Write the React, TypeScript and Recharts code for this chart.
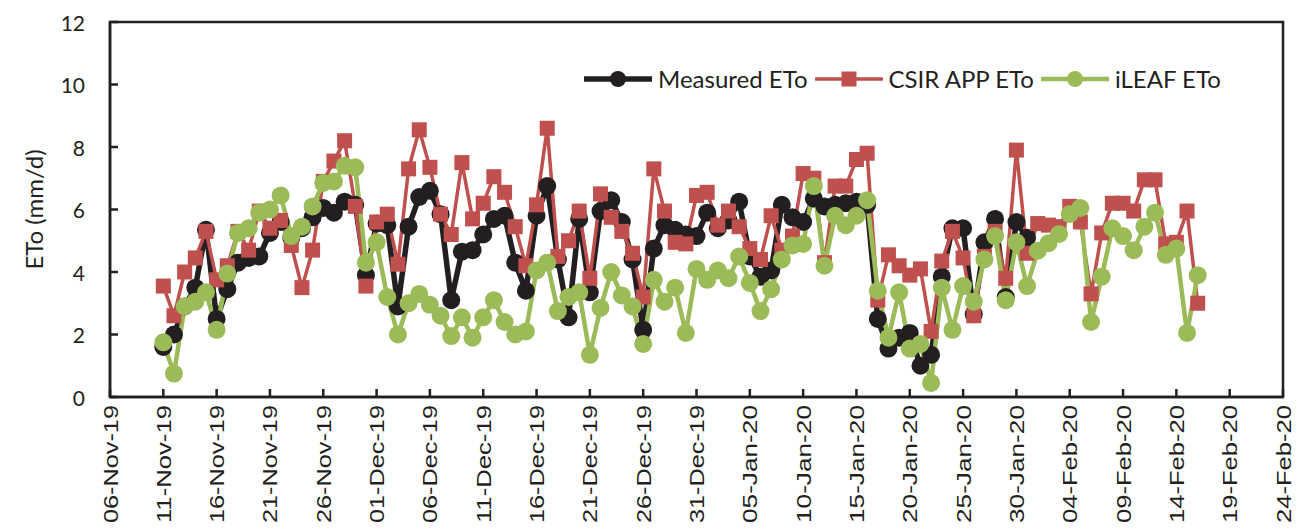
import { LineChart, Line, XAxis, YAxis, Legend, ReferenceArea } from 'recharts';

const tickLabels = [
  '06-Nov-19', '11-Nov-19', '16-Nov-19', '21-Nov-19', '26-Nov-19', '01-Dec-19',
  '06-Dec-19', '11-Dec-19', '16-Dec-19', '21-Dec-19', '26-Dec-19', '31-Dec-19',
  '05-Jan-20', '10-Jan-20', '15-Jan-20', '20-Jan-20', '25-Jan-20', '30-Jan-20',
  '04-Feb-20', '09-Feb-20', '14-Feb-20', '19-Feb-20', '24-Feb-20',
];

// daily readings start on 11-Nov-19, five days after the axis origin
const firstDay = 5;

const measured = [
  1.6, 2.0, 2.9, 3.5, 5.35, 2.5, 3.45, 4.3, 4.45, 4.5,
  5.25, 5.6, 5.1, 5.4, 5.75, 6.05, 5.9, 6.25, 6.15, 3.9,
  5.55, 5.5, 2.9, 5.45, 6.4, 6.6, 5.85, 3.1, 4.65, 4.7,
  5.2, 5.7, 5.8, 4.3, 3.4, 5.8, 6.75, 4.4, 2.55, 5.7,
  3.35, 5.95, 6.3, 5.6, 4.4, 2.15, 4.75, 5.5, 5.35, 5.2,
  5.15, 5.9, 5.4, 5.65, 6.25, 4.5, 3.85, 4.05, 6.15, 5.75,
  5.6, 6.35, 6.1, 6.15, 6.2, 6.25, 6.15, 2.5, 1.55, 1.9,
  2.05, 1.0, 1.35, 3.85, 5.4, 5.4, 2.65, 4.95, 5.7, 3.2,
  5.6, 5.1,
];

const csir = [
  3.55, 2.6, 4.0, 4.45, 5.3, 3.75, 4.2, 5.3, 4.7, 5.95,
  5.4, 5.65, 4.85, 3.5, 4.7, 6.9, 7.55, 8.2, 6.1, 3.55,
  5.6, 5.85, 4.25, 7.3, 8.55, 7.35, 5.85, 5.2, 7.5, 5.7,
  6.2, 7.05, 6.55, 5.45, 4.2, 6.15, 8.6, 4.5, 5.0, 5.95,
  3.8, 6.5, 5.75, 5.3, 4.6, 3.2, 7.3, 5.95, 4.95, 4.9,
  6.45, 6.55, 5.5, 5.95, 5.45, 4.75, 4.4, 5.8, 4.7, 5.15,
  7.15, 7.0, 4.3, 6.75, 6.75, 7.6, 7.8, 3.1, 4.55, 4.2,
  3.9, 4.1, 2.1, 4.35, 5.3, 4.45, 2.6, 4.5, 5.3, 3.8,
  7.9, 4.6, 5.55, 5.5, 5.45, 6.1, 5.6, 3.3, 5.25, 6.2,
  6.2, 5.95, 6.95, 6.95, 4.9, 4.95, 5.95, 3.0,
];

const ileaf = [
  1.75, 0.75, 2.9, 3.05, 3.35, 2.15, 3.95, 5.25, 5.4, 5.9,
  6.0, 6.45, 5.15, 5.45, 6.1, 6.85, 6.9, 7.4, 7.35, 4.3,
  4.95, 3.2, 2.0, 3.0, 3.3, 2.95, 2.6, 1.95, 2.55, 1.9,
  2.55, 3.1, 2.4, 2.0, 2.1, 4.05, 4.3, 2.75, 3.2, 3.35,
  1.35, 2.85, 4.0, 3.25, 2.9, 1.7, 3.75, 3.05, 3.5, 2.05,
  4.1, 3.75, 4.05, 3.8, 4.5, 3.65, 2.75, 3.45, 4.4, 4.85,
  4.9, 6.75, 4.2, 5.8, 5.5, 5.8, 6.3, 3.4, 1.9, 3.35,
  1.55, 1.7, 0.45, 3.5, 2.15, 3.55, 3.05, 4.4, 5.15, 3.1,
  4.95, 3.55, 4.68, 4.92, 5.22, 5.86, 6.05, 2.4, 3.85, 5.4,
  5.15, 4.7, 5.45, 5.9, 4.55, 4.75, 2.05, 3.9,
];

const yTicks = [0, 2, 4, 6, 8, 10, 12];

const BLACK = '#231f20';
const RED = '#c0504d';
const GREEN = '#9bbb59';

const legendItems = [
  { name: 'Measured ETo', color: BLACK, shape: 'circle', width: 5.5 },
  { name: 'CSIR APP ETo', color: RED, shape: 'square', width: 3.5 },
  { name: 'iLEAF ETo', color: GREEN, shape: 'circle', width: 4.5 },
];

const data = ileaf.map((v, i) => ({
  day: firstDay + i,
  measured: i < measured.length ? measured[i] : null,
  csir: csir[i],
  ileaf: v,
}));

const calibriLike = 'Lato, "Open Sans", sans-serif';

function SquareDot(props: any) {
  const { cx, cy } = props;
  if (cx == null || cy == null) return null;
  return <rect x={cx - 7.5} y={cy - 7.5} width={15} height={15} fill={RED} />;
}

function DateTick(props: any) {
  const { x, y, payload } = props;
  const label = tickLabels[Math.round(payload.value / 5)];
  const axisY = y - 8;
  return (
    <g>
      <line x1={x} y1={axisY} x2={x} y2={axisY - 8} stroke={BLACK} strokeWidth={2.5} />
      <text
        x={x}
        y={y}
        transform={`rotate(-90, ${x}, ${y})`}
        textAnchor="end"
        dominantBaseline="central"
        fontFamily='"Liberation Sans", Arial, sans-serif'
        fontSize={21}
        textLength={118}
        lengthAdjust="spacingAndGlyphs"
        fill={BLACK}
      >
        {label}
      </text>
    </g>
  );
}

function ValueTick(props: any) {
  const { x, y, payload } = props;
  const axisX = x + 25;
  return (
    <g>
      <line x1={axisX} y1={y} x2={axisX + 8} y2={y} stroke={BLACK} strokeWidth={2.5} />
      <text x={x} y={y} textAnchor="end" dominantBaseline="central" fontFamily={calibriLike} fontSize={21} fill={BLACK}>
        {payload.value}
      </text>
    </g>
  );
}

function LegendMarker({ color, shape, width }: { color: string; shape: string; width: number }) {
  return (
    <svg width={68} height={22} style={{ display: 'block' }}>
      <line x1={1} y1={11} x2={67} y2={11} stroke={color} strokeWidth={width} strokeLinecap="round" />
      {shape === 'square' ? (
        <rect x={26.5} y={3.5} width={15} height={15} fill={color} />
      ) : (
        <circle cx={34} cy={11} r={8} fill={color} />
      )}
    </svg>
  );
}

function ChartLegend() {
  return (
    <div style={{ display: 'flex', alignItems: 'center', fontFamily: calibriLike, fontSize: 24, color: BLACK, whiteSpace: 'nowrap' }}>
      {legendItems.map((item) => (
        <div key={item.name} style={{ display: 'flex', alignItems: 'center', marginRight: 7 }}>
          <LegendMarker color={item.color} shape={item.shape} width={item.width} />
          <span style={{ marginLeft: 6 }}>{item.name}</span>
        </div>
      ))}
    </div>
  );
}

export default function App() {
  return (
    <div style={{ width: 1301, height: 529, background: '#fff' }}>
      <style>{'body{margin:0}'}</style>
      <LineChart width={1301} height={529} data={data} margin={{ top: 22, right: 18, bottom: 0, left: 0 }}>
        <ReferenceArea x1={0} x2={110} y1={0} y2={12} fill="none" stroke={BLACK} strokeWidth={2.5} />
        <XAxis
          type="number"
          dataKey="day"
          domain={[0, 110]}
          ticks={tickLabels.map((_, k) => k * 5)}
          interval={0}
          height={132}
          tickSize={0}
          tickMargin={8}
          tickLine={false}
          axisLine={{ stroke: BLACK, strokeWidth: 2.5 }}
          tick={<DateTick />}
        />
        <YAxis
          domain={[0, 12]}
          ticks={yTicks}
          interval={0}
          width={110}
          tickSize={0}
          tickMargin={25}
          tickLine={false}
          axisLine={{ stroke: BLACK, strokeWidth: 2.5 }}
          tick={<ValueTick />}
          label={{
            content: (p: any) => {
              const vb = p.viewBox || { x: 0, y: 22, width: 110, height: 375 };
              const cx = vb.x + 33;
              const cy = vb.y + vb.height / 2;
              return (
                <text
                  x={cx}
                  y={cy}
                  transform={`rotate(-90, ${cx}, ${cy})`}
                  textAnchor="middle"
                  dominantBaseline="central"
                  fontFamily={calibriLike}
                  fontSize={24}
                  fill={BLACK}
                >
                  ETo (mm/d)
                </text>
              );
            },
          }}
        />
        <Legend
          layout="horizontal"
          verticalAlign="middle"
          wrapperStyle={{ position: 'absolute', top: 64, left: 584, width: 700 }}
          content={() => <ChartLegend />}
        />
        <Line
          type="linear"
          dataKey="measured"
          name="Measured ETo"
          stroke={BLACK}
          strokeWidth={5.5}
          dot={{ r: 9, fill: BLACK, stroke: 'none' }}
          activeDot={false}
          isAnimationActive={false}
        />
        <Line
          type="linear"
          dataKey="csir"
          name="CSIR APP ETo"
          stroke={RED}
          strokeWidth={3.5}
          dot={<SquareDot />}
          activeDot={false}
          isAnimationActive={false}
        />
        <Line
          type="linear"
          dataKey="ileaf"
          name="iLEAF ETo"
          stroke={GREEN}
          strokeWidth={4.5}
          dot={{ r: 9, fill: GREEN, stroke: 'none' }}
          activeDot={false}
          isAnimationActive={false}
        />
      </LineChart>
    </div>
  );
}
